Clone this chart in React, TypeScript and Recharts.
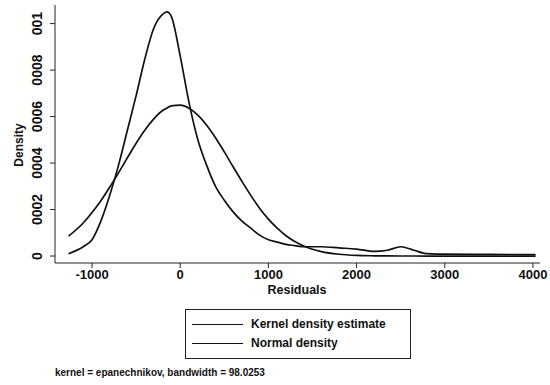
import { LineChart, Line, XAxis, YAxis } from 'recharts';

const residuals = [
  -1267, -1100, -1000, -900, -800, -700, -600, -500, -400, -300,
  -200, -150, -100, 0, 100, 200, 300, 400, 500, 600,
  700, 800, 900, 1000, 1100, 1200, 1300, 1400, 1600, 1800,
  2000, 2200, 2350, 2500, 2650, 2800, 3000, 3500, 4030,
];
const kernelDensity = [
  0.00001, 0.00004, 0.00007, 0.00015, 0.00026, 0.00039, 0.00054, 0.00069, 0.00085, 0.00098,
  0.00104, 0.00105, 0.00103, 0.00086, 0.00066, 0.0005, 0.00039, 0.0003, 0.00024, 0.00019,
  0.00015, 0.00012, 0.00009, 0.00007, 0.00006, 0.00005, 0.000045, 0.00004, 0.00004, 0.000035,
  0.00003, 0.00002, 0.000025, 0.00004, 0.000025, 0.00001, 0.000008, 0.000007, 0.000006,
];
const normalDensity = [
  0.0000853, 0.000142, 0.000187, 0.000238, 0.000296, 0.000358, 0.000422, 0.000485, 0.000542, 0.00059,
  0.000626, 0.000637, 0.000646, 0.000649, 0.000636, 0.000606, 0.000563, 0.000509, 0.000448, 0.000384,
  0.000321, 0.000261, 0.000206, 0.000159, 0.00012, 0.0000874, 0.0000622, 0.0000431, 0.0000192, 0.0000077,
  0.0000027, 0.000001, 0.0000004, 0.0000002, 0.0000001, 0, 0, 0, 0,
];
const xTicks = [-1000, 0, 1000, 2000, 3000, 4000];
const yTicks = [0, 0.0002, 0.0004, 0.0006, 0.0008, 0.001];
const yTickLabels = ['0', '0002', '0004', '0006', '0008', '001'];
const legendItems = ['Kernel density estimate', 'Normal density'];
const note = 'kernel = epanechnikov, bandwidth = 98.0253';

const data = residuals.map((r, i) => ({
  r,
  kernel: kernelDensity[i],
  normal: normalDensity[i],
}));

const font = 'Arial, "Liberation Sans", sans-serif';

const XTick = (props: any) => {
  const { x, payload } = props;
  return (
    <text x={x} y={279} textAnchor="middle" fontFamily={font} fontSize={13} fontWeight="bold" fill="#111">
      {payload.value}
    </text>
  );
};

const YTick = (props: any) => {
  const { y, payload } = props;
  const idx = yTicks.indexOf(payload.value);
  return (
    <text
      x={42}
      y={y}
      transform={`rotate(-90, 42, ${y})`}
      textAnchor="middle"
      fontFamily={font}
      fontSize={14}
      fontWeight="bold"
      fill="#111"
    >
      {idx >= 0 ? yTickLabels[idx] : payload.value}
    </text>
  );
};

export default function App() {
  return (
    <div style={{ position: 'absolute', left: 0, top: 0, width: 550, height: 385, background: '#fff' }}>
      <LineChart width={550} height={385} data={data} margin={{ top: 5, right: 10, left: 15, bottom: 87 }}>
        <XAxis
          dataKey="r"
          type="number"
          domain={[-1420, 4080]}
          ticks={xTicks}
          tick={<XTick />}
          stroke="#222"
          tickSize={5}
          height={35}
          allowDataOverflow
        />
        <YAxis
          type="number"
          domain={[-0.00003, 0.00108]}
          ticks={yTicks}
          tick={<YTick />}
          stroke="#222"
          tickSize={5}
          width={40}
          allowDataOverflow
        />
        <Line
          type="monotone"
          dataKey="kernel"
          stroke="#111"
          strokeWidth={1.7}
          dot={false}
          isAnimationActive={false}
          name="Kernel density estimate"
        />
        <Line
          type="monotone"
          dataKey="normal"
          stroke="#111"
          strokeWidth={1.7}
          dot={false}
          isAnimationActive={false}
          name="Normal density"
        />
      </LineChart>
      <div
        style={{
          position: 'absolute',
          left: 19,
          top: 145,
          transform: 'translate(-50%, -50%) rotate(-90deg)',
          fontFamily: font,
          fontSize: 12,
          fontWeight: 'bold',
          color: '#111',
        }}
      >
        Density
      </div>
      <div
        style={{
          position: 'absolute',
          left: 297,
          top: 290,
          transform: 'translate(-50%, -50%)',
          fontFamily: font,
          fontSize: 12.5,
          fontWeight: 'bold',
          color: '#111',
        }}
      >
        Residuals
      </div>
      <div
        style={{
          position: 'absolute',
          left: 185,
          top: 309,
          width: 226,
          height: 50,
          border: '1.5px solid #222',
          boxSizing: 'border-box',
          fontFamily: font,
          color: '#111',
        }}
      >
        {legendItems.map((label, i) => (
          <div
            key={label}
            style={{ position: 'absolute', left: 6, top: 6 + i * 19, height: 16, display: 'flex', alignItems: 'center' }}
          >
            <span style={{ display: 'inline-block', width: 51, borderTop: '1.5px solid #111', marginRight: 8 }} />
            <span style={{ fontWeight: 'bold', fontSize: 12, whiteSpace: 'nowrap' }}>{label}</span>
          </div>
        ))}
      </div>
      <div
        style={{
          position: 'absolute',
          left: 55,
          top: 367,
          fontFamily: font,
          fontSize: 10,
          fontWeight: 'bold',
          color: '#111',
          whiteSpace: 'nowrap',
        }}
      >
        {note}
      </div>
    </div>
  );
}
